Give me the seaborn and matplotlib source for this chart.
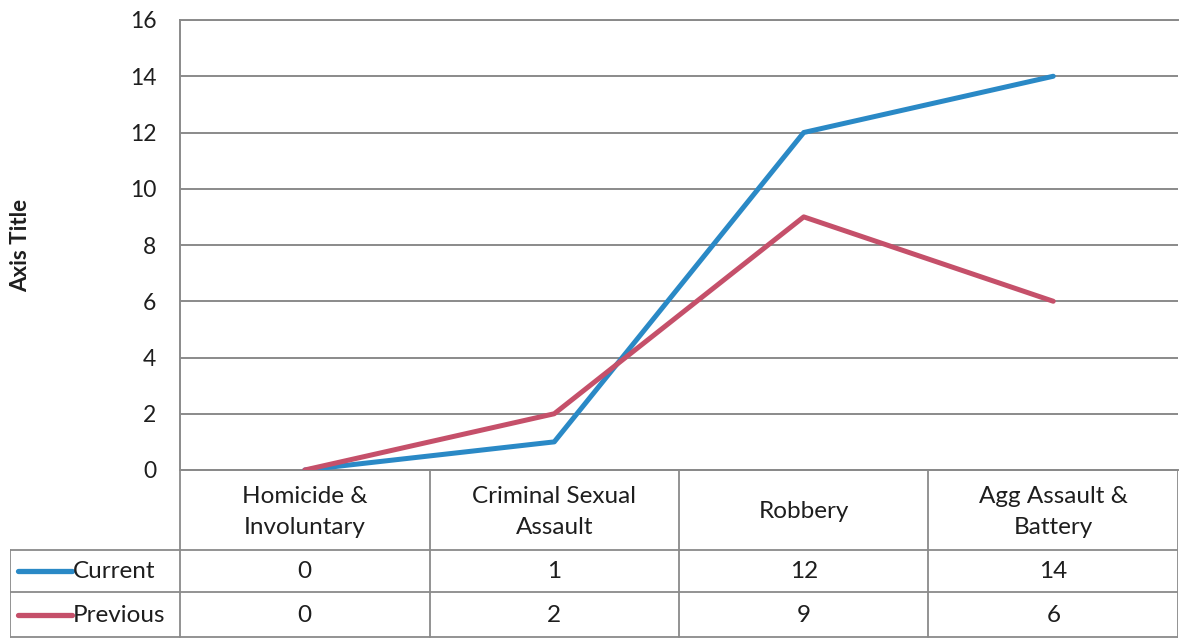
import matplotlib
matplotlib.use('Agg')
import matplotlib.pyplot as plt
import seaborn as sns
import pandas as pd

# chart data
categories = ['Homicide &\nInvoluntary', 'Criminal Sexual\nAssault', 'Robbery', 'Agg Assault &\nBattery']
current = [0, 1, 12, 14]
previous = [0, 2, 9, 6]
series_names = ['Current', 'Previous']
y_ticks = [0, 2, 4, 6, 8, 10, 12, 14, 16]

colors = {'Current': '#2a89c6', 'Previous': '#c5506a'}
grid_col = '#8a8a8a'
txt_col = '#1e1e1e'
fs = 16.5
fs_tab = 17.5

sns.set_theme(style='white')
plt.rcParams['font.family'] = ['Lato', 'DejaVu Sans']

W, H = 1180, 641
fig = plt.figure(figsize=(W / 100, H / 100), dpi=100)

# plot area in pixel layout
px_left, px_right, px_top, px_bottom = 180, 1178, 20, 470
ax = fig.add_axes([px_left / W, 1 - px_bottom / H,
                   (px_right - px_left) / W, (px_bottom - px_top) / H])

df = pd.DataFrame({
    'x': list(range(len(categories))) * 2,
    'value': current + previous,
    'series': ['Current'] * len(current) + ['Previous'] * len(previous),
})
sns.lineplot(data=df, x='x', y='value', hue='series', palette=colors,
             linewidth=3.6, ax=ax, legend=False, zorder=3)

ax.set_xlim(-0.5, len(categories) - 0.5)
ax.set_ylim(0, 16)
ax.set_yticks(y_ticks)
ax.set_xticks([])
ax.set_xlabel('')
ax.set_ylabel('Axis Title', fontsize=16, fontweight='bold', color=txt_col)
ax.yaxis.set_label_coords(-(px_left - 31) / (px_right - px_left), 0.5)
ax.tick_params(axis='y', length=0, pad=17, labelsize=fs, labelcolor=txt_col)
ax.grid(axis='y', color=grid_col, linewidth=1.4)
for s in ['left', 'bottom', 'top']:
    ax.spines[s].set_color(grid_col)
    ax.spines[s].set_linewidth(1.4)
ax.spines['right'].set_visible(False)

# data table under the chart
tab_left = 10
unit = (px_right - px_left) / len(categories)
tab = fig.add_axes([tab_left / W, 0, (px_right - tab_left) / W, 1 - px_bottom / H])
x0 = -0.5 - (px_left - tab_left) / unit
xr = len(categories) - 0.5
tab.set_xlim(x0, xr)
tab.set_ylim(H, px_bottom)
tab.axis('off')

row_y = [px_bottom, 550, 592, 637]
lw = 1.3
# horizontal lines
tab.plot([-0.5, xr], [row_y[0]] * 2, color=grid_col, lw=lw)
for y in row_y[1:]:
    tab.plot([x0, xr], [y, y], color=grid_col, lw=lw)
# vertical lines
for i in range(len(categories) + 1):
    tab.plot([i - 0.5, i - 0.5], [row_y[0], row_y[3]], color=grid_col, lw=lw)
tab.plot([x0, x0], [row_y[1], row_y[3]], color=grid_col, lw=lw)

for i, cat in enumerate(categories):
    tab.text(i, (row_y[0] + row_y[1]) / 2 + 2, cat, ha='center', va='center',
             fontsize=fs_tab, color=txt_col, linespacing=1.55)

for r, (name, vals) in enumerate(zip(series_names, [current, previous])):
    yc = (row_y[r + 1] + row_y[r + 2]) / 2
    for i, v in enumerate(vals):
        tab.text(i, yc + 1, str(v), ha='center', va='center', fontsize=fs_tab, color=txt_col)
    key_x0 = x0 + 8 / unit
    key_x1 = x0 + 62 / unit
    tab.plot([key_x0, key_x1], [yc, yc], color=colors[name], lw=3.8, solid_capstyle='round')
    tab.text(key_x1 + 1 / unit, yc + 1, name, ha='left', va='center', fontsize=fs_tab, color=txt_col)

fig.savefig('out.png', dpi=100)
